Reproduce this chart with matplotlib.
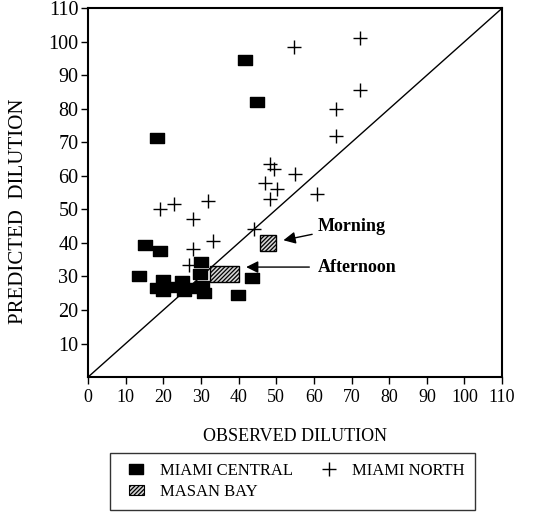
import numpy as np
import matplotlib.pyplot as plt
from matplotlib.path import Path
from matplotlib.patches import Rectangle
from matplotlib.lines import Line2D
from matplotlib.legend_handler import HandlerPatch

plt.rcParams['font.family'] = ['Liberation Serif', 'DejaVu Serif']
plt.rcParams['hatch.linewidth'] = 0.9

# Miami Central (observed, predicted)
central_obs = [41.8, 44.9, 18.3, 15.2, 19.0, 13.4, 30.0, 29.8, 19.8, 18.3,
               20.0, 22.5, 25.0, 25.4, 27.5, 30.2, 30.7, 39.8, 43.6]
central_pred = [94.6, 81.9, 71.3, 39.4, 37.7, 30.2, 34.3, 30.7, 29.0, 26.7,
                25.7, 27.0, 28.7, 25.7, 26.5, 27.2, 25.2, 24.4, 29.5]

# Miami North
north_obs = [54.7, 72.3, 72.3, 65.8, 65.8, 48.3, 49.4, 54.9, 47.1, 50.3,
             60.7, 48.3, 19.0, 22.9, 31.9, 27.9, 44.0, 33.2, 27.9, 26.7]
north_pred = [98.3, 101.1, 85.5, 80.0, 72.0, 63.4, 61.9, 60.7, 57.9, 56.2,
              54.5, 53.0, 50.2, 51.5, 52.5, 47.0, 44.2, 40.6, 38.1, 33.4]

# Masan Bay ranges (morning, afternoon)
masan_labels = ['Morning', 'Afternoon']
masan_obs_lo = [45.6, 32.3]
masan_obs_hi = [49.8, 40.2]
masan_pred_lo = [37.6, 28.2]
masan_pred_hi = [42.3, 33.1]

HATCH_FC = '#d4d4d4'
HATCH = '////////'

# rectangle marker, wider than tall
rect_marker = Path([(-0.75, -0.5), (0.75, -0.5), (0.75, 0.5), (-0.75, 0.5), (-0.75, -0.5)],
                   [Path.MOVETO, Path.LINETO, Path.LINETO, Path.LINETO, Path.CLOSEPOLY])

fig = plt.figure(figsize=(5.37, 5.13), dpi=100)
ax = fig.add_axes([0.164, 0.265, 0.771, 0.719])

ax.plot([0, 110], [0, 110], color='black', lw=1, zorder=1)
ax.plot(north_obs, north_pred, linestyle='none', marker='+', markersize=10,
        markeredgewidth=1, color='black', zorder=2)
ax.plot(central_obs, central_pred, linestyle='none', marker=rect_marker,
        markersize=10, color='black', zorder=3)

for lo_x, hi_x, lo_y, hi_y in zip(masan_obs_lo, masan_obs_hi, masan_pred_lo, masan_pred_hi):
    ax.add_patch(Rectangle((lo_x, lo_y), hi_x - lo_x, hi_y - lo_y, facecolor=HATCH_FC,
                           edgecolor='black', hatch=HATCH, lw=1, zorder=4))

# annotations
ax.annotate('Morning', xy=(51.9, 40.8), xytext=(61.0, 45.0), fontsize=13, fontweight='bold',
            va='center', ha='left',
            arrowprops=dict(arrowstyle='-|>', color='black', lw=1, mutation_scale=18,
                            shrinkA=2, shrinkB=0))
ax.annotate('Afternoon', xy=(42.0, 32.8), xytext=(61.0, 32.8), fontsize=13, fontweight='bold',
            va='center', ha='left',
            arrowprops=dict(arrowstyle='-|>', color='black', lw=1, mutation_scale=18,
                            shrinkA=4, shrinkB=0))

ax.set_xlim(0, 110)
ax.set_ylim(0, 110)
ax.set_xticks(np.arange(0, 111, 10))
ax.set_yticks(np.arange(10, 111, 10))
ax.tick_params(direction='out', length=5, width=1, colors='black')
ax.tick_params(axis='x', labelsize=13)
ax.tick_params(axis='y', labelsize=14.5, pad=2)
for s in ax.spines.values():
    s.set_linewidth(1.5)

ax.set_xlabel('OBSERVED DILUTION', fontsize=13, labelpad=16)
ax.set_ylabel('PREDICTED  DILUTION', fontsize=15)
ax.yaxis.set_label_coords(-0.145, 0.45)


def small_rect(legend, orig_handle, xdescent, ydescent, width, height, fontsize):
    w, h = 11, 7
    return Rectangle((width / 2 - w / 2 - xdescent, height / 2 - h / 2 - ydescent), w, h)


handles = [
    Line2D([], [], linestyle='none', marker=rect_marker, markersize=10, color='black'),
    Rectangle((0, 0), 1, 1, facecolor=HATCH_FC, edgecolor='black', hatch=HATCH, lw=0.8),
    Line2D([], [], linestyle='none', marker='+', markersize=10, markeredgewidth=1, color='black'),
]
labels = ['MIAMI CENTRAL', 'MASAN BAY', 'MIAMI NORTH']
leg = fig.legend(handles, labels, ncol=2, loc='lower center', bbox_to_anchor=(0.544, -0.01),
                 fontsize=12, frameon=True, fancybox=False, edgecolor='black',
                 handlelength=2.0, handletextpad=0.4, columnspacing=1.15,
                 borderpad=0.6, labelspacing=0.3,
                 handler_map={Rectangle: HandlerPatch(patch_func=small_rect)})
leg.get_frame().set_linewidth(1)

fig.savefig('out.png', dpi=100)
